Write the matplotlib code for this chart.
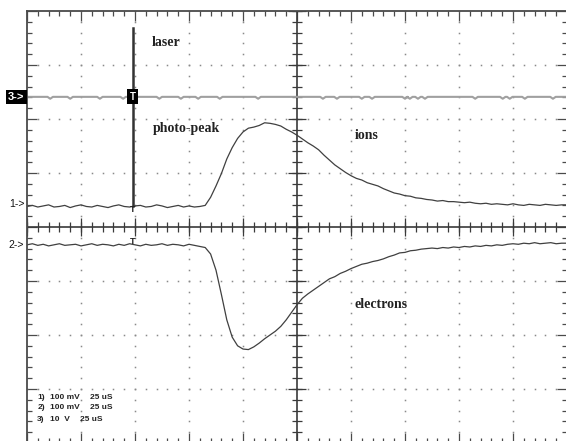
# Oscilloscope screen: laser trigger, ion and electron signals
# Values are in screen divisions (10 across, 8 down, centre at 5, 0)

import numpy as np
import matplotlib.pyplot as plt
from matplotlib.ticker import MultipleLocator

# Sample times across the screen (divisions)
time_div = np.linspace(0, 10, 101)

# Channel 1: ions (positive pulse)
ions = [0.38, 0.40, 0.37, 0.39, 0.41, 0.37, 0.38, 0.40, 0.36, 0.39,
        0.41, 0.38, 0.37, 0.40, 0.38, 0.36, 0.39, 0.41, 0.38, 0.37,
        0.39, 0.40, 0.37, 0.38, 0.41, 0.39, 0.36, 0.38, 0.40, 0.37,
        0.39, 0.37, 0.38, 0.40, 0.55, 0.76, 0.99, 1.26, 1.47, 1.64,
        1.76, 1.83, 1.85, 1.88, 1.93, 1.92, 1.90, 1.87, 1.81, 1.76,
        1.70, 1.63, 1.56, 1.50, 1.43, 1.33, 1.24, 1.15, 1.08, 1.01,
        0.95, 0.90, 0.87, 0.82, 0.79, 0.76, 0.71, 0.67, 0.63, 0.61,
        0.58, 0.57, 0.54, 0.53, 0.51, 0.50, 0.48, 0.49, 0.47, 0.47,
        0.46, 0.45, 0.46, 0.44, 0.43, 0.44, 0.42, 0.43, 0.42, 0.41,
        0.43, 0.41, 0.40, 0.42, 0.41, 0.40, 0.42, 0.41, 0.40, 0.41,
        0.41]

# Channel 2: electrons (negative pulse)
electrons = [-0.33, -0.31, -0.34, -0.32, -0.35, -0.33, -0.31, -0.34, -0.33, -0.32,
             -0.35, -0.33, -0.31, -0.34, -0.32, -0.33, -0.35, -0.32, -0.34, -0.31,
             -0.33, -0.35, -0.32, -0.34, -0.33, -0.31, -0.34, -0.32, -0.33, -0.35,
             -0.32, -0.34, -0.36, -0.38, -0.50, -0.80, -1.25, -1.72, -2.04, -2.20,
             -2.26, -2.27, -2.22, -2.15, -2.07, -2.00, -1.93, -1.84, -1.72, -1.58,
             -1.44, -1.32, -1.24, -1.17, -1.10, -1.03, -0.96, -0.92, -0.86, -0.82,
             -0.77, -0.73, -0.69, -0.67, -0.64, -0.62, -0.59, -0.55, -0.52, -0.48,
             -0.47, -0.44, -0.43, -0.41, -0.40, -0.39, -0.40, -0.38, -0.39, -0.37,
             -0.38, -0.36, -0.37, -0.35, -0.36, -0.34, -0.35, -0.33, -0.34, -0.32,
             -0.31, -0.32, -0.30, -0.31, -0.29, -0.31, -0.30, -0.29, -0.31, -0.30,
             -0.30]

# Channel 3: laser trigger line, flat with small dips
laser_level = 2.41
laser_dips = [0.43, 0.80, 1.35, 1.78, 2.45, 2.85, 3.17, 3.57, 4.28, 5.48,
              5.74, 6.20, 6.39, 7.00, 7.09, 7.24, 7.37, 8.30, 8.81, 8.94,
              9.22, 9.74]
dip_depth = 0.035

# Trigger and photo-peak spike
trigger_time = 1.96
ch1_level = 0.38
ch2_level = -0.30
photo_peak_top = 3.69

# Annotations
labels = ["laser", "photo-peak", "ions", "electrons"]
label_pos = [(2.31, 3.41), (2.33, 1.83), (6.07, 1.70), (6.07, -1.44)]

scale_rows = [("1)", "100 mV", "25 uS"),
              ("2)", "100 mV", "25 uS"),
              ("3)", "10  V", "25 uS")]
scale_y = [-3.15, -3.35, -3.56]

fig = plt.figure(figsize=(5.66, 4.41), dpi=100)
ax = fig.add_axes([27 / 566, -2 / 441, 540 / 566, 432 / 441])
ax.set_xlim(0, 10)
ax.set_ylim(-4, 4)

frame = "#4a4a4a"
for s in ax.spines.values():
    s.set_color(frame)
    s.set_linewidth(1.3)
ax.xaxis.set_major_locator(MultipleLocator(1))
ax.xaxis.set_minor_locator(MultipleLocator(0.2))
ax.yaxis.set_major_locator(MultipleLocator(1))
ax.yaxis.set_minor_locator(MultipleLocator(0.2))
ax.tick_params(which="both", direction="in", top=True, right=True,
               labelbottom=False, labelleft=False, color=frame, width=0.9)
ax.tick_params(which="major", length=7)
ax.tick_params(which="minor", length=3.6)

# dotted graticule
minor = np.arange(0, 10.01, 0.2)
minor_y = np.arange(-4, 4.01, 0.2)
for gy in [-3, -2, -1, 1, 2, 3]:
    ax.plot(minor, np.full_like(minor, gy), ls="none", marker="s", ms=1.1,
            color="#8a8a8a", mew=0)
for gx in [1, 2, 3, 4, 6, 7, 8, 9]:
    ax.plot(np.full_like(minor_y, gx), minor_y, ls="none", marker="s", ms=1.1,
            color="#8a8a8a", mew=0)

# centre cross with ticks
ax.axhline(0, color="#3a3a3a", lw=1.2)
ax.axvline(5, color="#3a3a3a", lw=1.2)
ax.plot(minor, np.zeros_like(minor), ls="none", marker="|", ms=6.5, mew=0.9, color="#3a3a3a")
ax.plot(np.arange(0, 11), np.zeros(11), ls="none", marker="|", ms=13.5, mew=0.9, color="#3a3a3a")
ax.plot(np.full_like(minor_y, 5), minor_y, ls="none", marker="_", ms=6.5, mew=0.9, color="#3a3a3a")
ax.plot(np.full(9, 5), np.arange(-4, 5), ls="none", marker="_", ms=13.5, mew=0.9, color="#3a3a3a")

# channel 3 trace
lx, ly = [0.0], [laser_level]
for d in laser_dips:
    lx += [d - 0.05, d, d + 0.05]
    ly += [laser_level, laser_level - dip_depth, laser_level]
lx.append(10.0)
ly.append(laser_level)
ax.plot(lx, ly, color="#a0a0a0", lw=1.5)

# channels 1 and 2
ax.plot(time_div, ions, color="#404040", lw=0.9)
ax.plot(time_div, electrons, color="#404040", lw=0.9)
ax.plot([trigger_time, trigger_time], [ch1_level, photo_peak_top], color="#333333", lw=1.8)

# trigger markers
ax.text(trigger_time, laser_level, "T", color="white", fontsize=7, fontweight="bold",
        family="Liberation Sans", ha="center", va="center",
        bbox=dict(boxstyle="square,pad=0.25", fc="black", ec="none"))
ax.text(trigger_time, ch1_level - 0.05, "T", color="#222222", fontsize=6.5, fontweight="bold",
        family="Liberation Sans", ha="center", va="center")
ax.text(trigger_time, ch2_level + 0.03, "T", color="#222222", fontsize=6.5, fontweight="bold",
        family="Liberation Sans", ha="center", va="center")

# channel markers on the left
ax.text(-0.2, laser_level, "3->", color="white", fontsize=8, fontweight="bold",
        family="Liberation Sans", ha="center", va="center", clip_on=False,
        bbox=dict(boxstyle="square,pad=0.2", fc="black", ec="none"))
ax.text(-0.05, ch1_level + 0.04, "1->", color="#111111", fontsize=7.5,
        family="Liberation Sans", ha="right", va="center", clip_on=False)
ax.text(-0.05, ch2_level - 0.03, "2->", color="#111111", fontsize=7.5,
        family="Liberation Sans", ha="right", va="center", clip_on=False)

for text, (x, y) in zip(labels, label_pos):
    ax.text(x, y, text, fontsize=10, fontweight="bold", family="Liberation Serif",
            color="#222222", ha="left", va="center")

col_x = [0.19, 0.43, 1.17]
for row, y in zip(scale_rows, scale_y):
    for i, part in enumerate(row):
        x = col_x[i]
        if row[0] == "3)" and i == 2:
            x = 0.98
        ax.text(x, y, part, fontsize=6, fontweight="bold", family="Liberation Sans",
                color="#222222", ha="left", va="center")

fig.savefig("out.png", dpi=100)
